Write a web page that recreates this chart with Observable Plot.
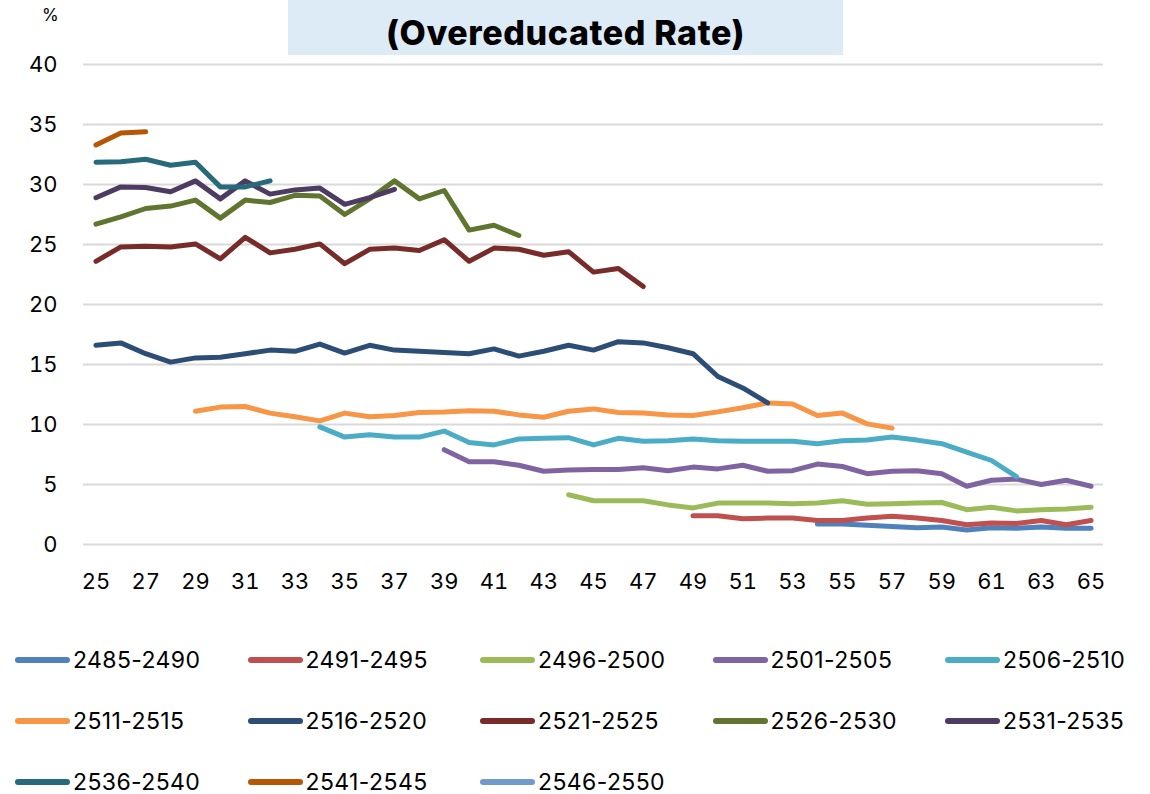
<!DOCTYPE html>
<html>
<head>
<meta charset="utf-8">
<script src="https://cdn.jsdelivr.net/npm/d3@7"></script>
<script src="https://cdn.jsdelivr.net/npm/@observablehq/plot@0.6"></script>
<style>
  html, body { margin: 0; padding: 0; background: #fff; }
  body { width: 1150px; height: 794px; overflow: hidden; font-family: Inter, "Noto Sans", sans-serif; color: #000; }
  #header { position: relative; height: 45px; z-index: 2; }
  #titlebox { position: absolute; left: 288px; top: 0; width: 555px; height: 55px; background: #ddebf7;
    display: flex; align-items: center; justify-content: center; padding-top: 9px; box-sizing: border-box;
    font-weight: 800; font-size: 34px; letter-spacing: 0.6px; }
  #unit { position: absolute; left: 42px; top: 5px; font-size: 17px; }
  #chart svg { overflow: visible; }
  #legend { padding-top: 35px; display: flex; flex-wrap: wrap; width: 1150px; }
  .item { width: 232.5px; height: 61px; display: flex; align-items: center; font-size: 23px; letter-spacing: 0.4px; }
  .item:nth-child(5n+1) { margin-left: 15px; }
  .item:nth-child(5n) { width: 200px; }
  .item svg { margin-right: 3px; }
</style>
</head>
<body>
<div id="header"><div id="unit">%</div><div id="titlebox">(Overeducated Rate)</div></div>
<div id="chart"></div>
<div id="legend"></div>
<script>
// Cohorts (birth years, B.E.) and colours
const cohorts = ["2485-2490","2491-2495","2496-2500","2501-2505","2506-2510","2511-2515","2516-2520","2521-2525","2526-2530","2531-2535","2536-2540","2541-2545","2546-2550"];
const colors  = ["#4f81bd","#c0504d","#9bbb59","#8064a2","#4bacc6","#f79646","#2c4d75","#772c2a","#5f7530","#4d3b62","#276a7c","#b65708","#729aca"];
// First age observed for each cohort
const startAge = [54, 49, 44, 39, 34, 29, 25, 25, 25, 25, 25, 25, 25];

// Overeducated rate (%) by age, one array per cohort
const r2485_2490 = [1.7,1.7,1.6,1.5,1.4,1.45,1.2,1.4,1.35,1.45,1.35,1.35];
const r2491_2495 = [2.4,2.4,2.15,2.2,2.2,2.0,2.0,2.2,2.35,2.2,2.0,1.65,1.8,1.75,2.0,1.65,2.0];
const r2496_2500 = [4.15,3.65,3.65,3.65,3.3,3.05,3.45,3.45,3.45,3.4,3.45,3.65,3.35,3.4,3.45,3.5,2.9,3.1,2.8,2.9,2.95,3.1];
const r2501_2505 = [7.9,6.9,6.9,6.6,6.1,6.2,6.25,6.25,6.4,6.15,6.45,6.3,6.6,6.1,6.15,6.7,6.5,5.9,6.1,6.15,5.9,4.85,5.35,5.45,5.0,5.35,4.85];
const r2506_2510 = [9.8,8.95,9.15,8.95,8.95,9.45,8.5,8.3,8.8,8.85,8.9,8.3,8.85,8.6,8.65,8.8,8.65,8.6,8.6,8.6,8.4,8.65,8.7,8.95,8.7,8.4,7.7,7.0,5.65];
const r2511_2515 = [11.1,11.45,11.5,10.95,10.65,10.3,10.95,10.65,10.75,11.0,11.05,11.15,11.1,10.8,10.6,11.1,11.3,11.0,10.95,10.8,10.75,11.05,11.4,11.8,11.7,10.75,10.95,10.05,9.7];
const r2516_2520 = [16.6,16.8,15.9,15.2,15.55,15.6,15.9,16.2,16.1,16.7,15.95,16.6,16.2,16.1,16.0,15.9,16.3,15.7,16.1,16.6,16.2,16.9,16.8,16.4,15.9,14.0,13.05,11.8];
const r2521_2525 = [23.6,24.8,24.85,24.8,25.05,23.8,25.6,24.3,24.6,25.05,23.4,24.6,24.7,24.5,25.4,23.6,24.7,24.6,24.1,24.4,22.7,23.0,21.5];
const r2526_2530 = [26.7,27.3,28.0,28.2,28.7,27.2,28.7,28.5,29.1,29.05,27.5,28.8,30.3,28.8,29.5,26.2,26.6,25.75];
const r2531_2535 = [28.9,29.8,29.75,29.4,30.3,28.8,30.3,29.2,29.55,29.7,28.35,28.9,29.6];
const r2536_2540 = [31.85,31.9,32.1,31.6,31.85,29.8,29.8,30.3];
const r2541_2545 = [33.3,34.3,34.4];
const r2546_2550 = [];

const rates = [r2485_2490,r2491_2495,r2496_2500,r2501_2505,r2506_2510,r2511_2515,r2516_2520,r2521_2525,r2526_2530,r2531_2535,r2536_2540,r2541_2545,r2546_2550];

const yTicks = [0,5,10,15,20,25,30,35,40];
const xTicks = [25,27,29,31,33,35,37,39,41,43,45,47,49,51,53,55,57,59,61,63,65];

const data = cohorts.flatMap((c, k) => rates[k].map((v, i) => ({cohort: c, age: startAge[k] + i, rate: v})));

const chart = Plot.plot({
  width: 1150,
  height: 549,
  marginTop: 19,
  marginBottom: 50,
  marginLeft: 83,
  marginRight: 47,
  style: {fontFamily: "Inter, 'Noto Sans', sans-serif", fontSize: "22px", color: "#000", background: "transparent"},
  x: {domain: [24.5, 65.5]},
  y: {domain: [0, 40]},
  color: {domain: cohorts, range: colors},
  marks: [
    Plot.ruleY(yTicks, {stroke: "#d9d9d9", strokeWidth: 2}),
    Plot.axisY({ticks: yTicks, tickSize: 0, tickPadding: 26, label: null, fontSize: 22}),
    Plot.axisX({ticks: xTicks, tickSize: 0, tickPadding: 29, tickFormat: d => String(d), label: null, fontSize: 22}),
    Plot.line(data, {x: "age", y: "rate", z: "cohort", stroke: "cohort", strokeWidth: 5,
      strokeLinecap: "round", strokeLinejoin: "round"})
  ]
});
document.getElementById("chart").appendChild(chart);

const legend = document.getElementById("legend");
cohorts.forEach((c, k) => {
  const item = document.createElement("div");
  item.className = "item";
  item.innerHTML = `<svg width="55" height="10"><line x1="3" y1="5" x2="52" y2="5" stroke="${colors[k]}" stroke-width="6" stroke-linecap="round"/></svg><span>${c}</span>`;
  legend.appendChild(item);
});
</script>
</body>
</html>
